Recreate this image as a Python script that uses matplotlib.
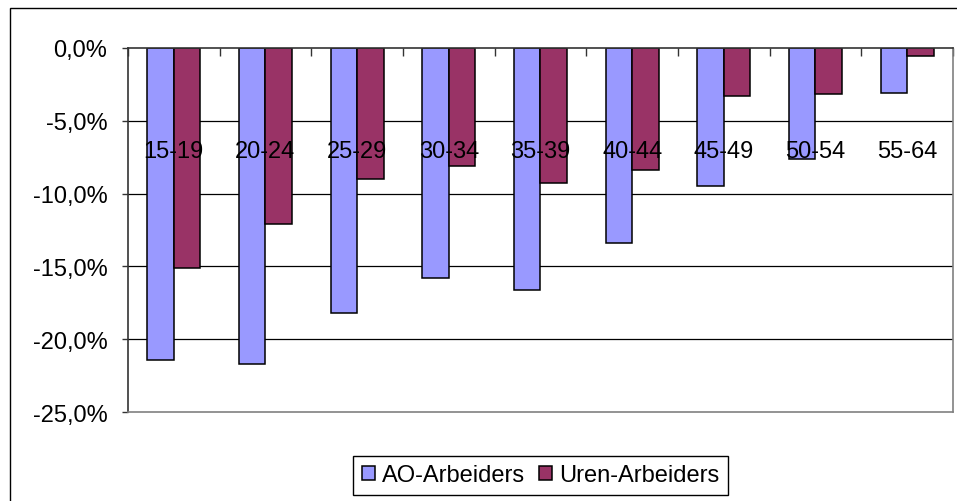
import matplotlib
matplotlib.use("Agg")
import matplotlib.pyplot as plt
from matplotlib.patches import Rectangle
import numpy as np

plt.rcParams["font.family"] = ["Liberation Sans", "DejaVu Sans"]

categories = ["15-19", "20-24", "25-29", "30-34", "35-39", "40-44", "45-49", "50-54", "55-64"]
ao_arbeiders = [-21.4, -21.7, -18.2, -15.8, -16.6, -13.4, -9.5, -7.6, -3.1]
uren_arbeiders = [-15.1, -12.1, -9.0, -8.1, -9.3, -8.4, -3.3, -3.2, -0.6]
y_ticks = [0, -5, -10, -15, -20, -25]
label_level = -7.1

W, H = 957, 502
fig = plt.figure(figsize=(W / 100, H / 100), dpi=100)
ax = fig.add_axes([128 / W, 1 - 413.3 / H, (953 - 128) / W, (413.3 - 48.7) / H])

# outer chart frame (cut off at right/bottom like the reference)
fig.patches.append(Rectangle((10 / W, -0.1), 1.2, 1 - 9 / H + 0.1, transform=fig.transFigure,
                             fill=False, edgecolor="black", lw=1.0))

x = np.arange(len(categories))
bw = 0.29
ax.bar(x - bw / 2, ao_arbeiders, bw, color="#9999FF", edgecolor="black", lw=1.1,
       label="AO-Arbeiders", zorder=3)
ax.bar(x + bw / 2, uren_arbeiders, bw, color="#993366", edgecolor="black", lw=1.1,
       label="Uren-Arbeiders", zorder=3)

ax.set_xlim(-0.5, len(categories) - 0.5)
ax.set_ylim(-25, 0)
ax.set_yticks(y_ticks)
ax.set_yticklabels([f"{v:.1f}%".replace(".", ",") for v in y_ticks], fontsize=17)
for v in y_ticks[1:-1]:
    ax.axhline(v, color="black", lw=0.9, zorder=1)

# category axis sits at 0 with ticks between categories
ax.xaxis.tick_top()
ax.set_xticks(np.arange(len(categories) + 1) - 0.5)
ax.set_xticklabels([])
ax.tick_params(axis="x", direction="in", length=5.8, width=1.0, color="#333333")
ax.tick_params(axis="y", direction="out", length=4.3, width=1.0, pad=10.5, color="#333333")
for c, lab in zip(x, categories):
    ax.text(c, label_level, lab, ha="center", va="center", fontsize=17, zorder=4)

for s in ("left", "top"):
    ax.spines[s].set_color("#333333")
    ax.spines[s].set_linewidth(1.2)
for s in ("right", "bottom"):
    ax.spines[s].set_color("#808080")
    ax.spines[s].set_linewidth(1.2)
ax.spines["top"].set_zorder(5)

leg = fig.legend(loc="center", bbox_to_anchor=(540.5 / W, 1 - 476.5 / H), ncol=2, fontsize=17,
                 frameon=True, fancybox=False, edgecolor="black", framealpha=1,
                 handlelength=0.55, handleheight=0.55, handletextpad=0.3,
                 columnspacing=0.6, borderpad=0.35, borderaxespad=0)
leg.get_frame().set_linewidth(1.0)

fig.savefig("out.png", dpi=100)
